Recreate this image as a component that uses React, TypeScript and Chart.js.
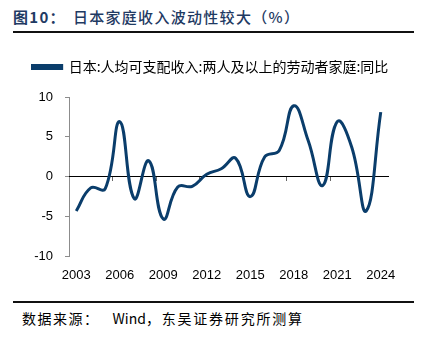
import React, { useEffect, useRef } from 'react';
import { Chart, registerables } from 'chart.js';

Chart.register(...registerables);

const years = ['2003','2004','2005','2006','2007','2008','2009','2010','2011','2012','2013','2014','2015','2016','2017','2018','2019','2020','2021','2022','2023','2024'];
const growth = [-4.3,-1.4,-1.5,6.9,-2.75,2.0,-5.3,-1.3,-1.2,0.3,1.0,2.3,-2.5,2.5,3.3,8.9,4.5,-1.1,6.9,3.7,-4.3,8.1];
const yTicks = [-10, -5, 0, 5, 10];
const seriesName = '日本:人均可支配收入:两人及以上的劳动者家庭:同比';
const titleLead = '图10：';
const titleRest = '日本家庭收入波动性较大（%）';
const sourceLead = '数据来源：';
const sourceWind = 'Wind';
const sourceRest = '，东吴证券研究所测算';

const LINE_COLOR = '#0a3d6b';
const CJK = '"Noto Sans CJK SC", "Noto Sans", sans-serif';
const LATIN = '"Liberation Sans", Arial, sans-serif';

export default function App() {
  const ref = useRef<HTMLCanvasElement | null>(null);

  useEffect(() => {
    document.body.style.margin = '0';
    const canvas = ref.current;
    if (!canvas) return;
    const legendSpacer = {
      id: 'legendSpacer',
      beforeInit(chart: any) {
        if (!chart.legend) return;
        const orig = chart.legend.fit;
        chart.legend.fit = function fit() {
          orig.bind(chart.legend)();
          this.height += 13;
        };
      },
    };
    const chart = new Chart(canvas, {
      type: 'line',
      data: {
        labels: years,
        datasets: [
          {
            label: seriesName,
            data: growth,
            borderColor: LINE_COLOR,
            backgroundColor: LINE_COLOR,
            borderWidth: 3,
            pointRadius: 0,
            tension: 0.45,
            xAxisID: 'x',
            yAxisID: 'y',
          },
        ],
      },
      options: {
        animation: false,
        responsive: false,
        maintainAspectRatio: false,
        layout: { padding: { left: 31, right: 37, top: 0, bottom: 8 } },
        plugins: {
          legend: {
            display: true,
            position: 'top',
            labels: {
              boxWidth: 31,
              boxHeight: 3,
              padding: 10,
              color: '#000',
              font: { family: CJK, size: 14 },
            },
          },
          tooltip: { enabled: false },
        },
        scales: {
          y: {
            min: -10,
            max: 10,
            afterBuildTicks: (scale: any) => {
              scale.ticks = yTicks.map((v) => ({ value: v }));
            },
            afterFit: (scale: any) => {
              scale.width = 38;
            },
            border: { display: true, color: '#8c8c8c', width: 1 },
            grid: {
              drawOnChartArea: false,
              tickLength: 4,
              color: '#8c8c8c',
            },
            ticks: {
              padding: 12,
              color: '#000',
              font: { family: LATIN, size: 13 },
            },
          },
          x: {
            type: 'category',
            position: { y: 0 } as any,
            offset: true,
            border: { display: true, color: '#000', width: 1 },
            grid: {
              offset: true,
              drawOnChartArea: false,
              tickLength: 4,
              color: (ctx: any) => (ctx.index % 3 === 0 && ctx.index > 0 ? '#666' : 'rgba(0,0,0,0)'),
            },
            ticks: { display: false },
          },
          x2: {
            type: 'category',
            position: 'bottom',
            labels: years,
            offset: true,
            border: { display: false },
            grid: { display: false },
            ticks: {
              autoSkip: false,
              maxRotation: 0,
              padding: 3,
              color: '#000',
              font: { family: LATIN, size: 13 },
              callback: (_v: any, i: number) => (i % 3 === 0 ? years[i] : ''),
            },
          },
        },
      } as any,
      plugins: [legendSpacer],
    });
    return () => chart.destroy();
  }, []);

  return (
    <div style={{ position: 'absolute', left: 0, top: 0, width: 425, height: 344, background: '#fff', overflow: 'hidden' }}>
      <div
        style={{
          position: 'absolute',
          left: 13,
          top: 6,
          fontFamily: CJK,
          fontSize: 15,
          lineHeight: '22px',
          color: '#1f3a63',
          whiteSpace: 'nowrap',
          letterSpacing: 1.3,
        }}
      >
        <span style={{ fontWeight: 700 }}>{titleLead}</span>
        <span style={{ fontWeight: 500, marginLeft: 7 }}>{titleRest}</span>
      </div>
      <div style={{ position: 'absolute', left: 13, top: 31, width: 401, height: 2, background: '#111' }} />
      <canvas ref={ref} width={425} height={244} style={{ position: 'absolute', left: 0, top: 50, width: 425, height: 244 }} />
      <div style={{ position: 'absolute', left: 13, top: 301, width: 401, height: 2, background: '#111' }} />
      <div
        style={{
          position: 'absolute',
          left: 22,
          top: 308,
          fontFamily: CJK,
          fontSize: 14,
          lineHeight: '20px',
          color: '#000',
          whiteSpace: 'nowrap',
        }}
      >
        <span style={{ letterSpacing: 1.5 }}>{sourceLead}</span>
        <span style={{ marginLeft: 13 }}>{sourceWind}</span>
        <span style={{ letterSpacing: 1.8 }}>{sourceRest}</span>
      </div>
    </div>
  );
}
